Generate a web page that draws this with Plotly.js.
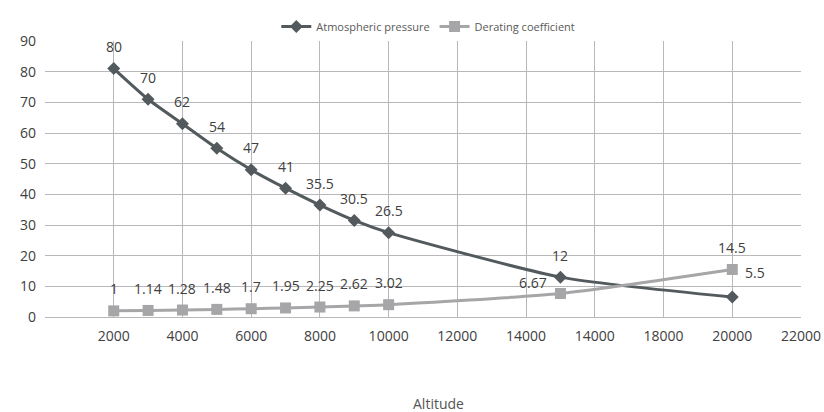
<!DOCTYPE html>
<html>
<head>
<meta charset="utf-8">
<script src="https://cdn.plot.ly/plotly-3.0.1.min.js"></script>
<style>html,body{margin:0;padding:0;background:#fff;}#chart{width:824px;height:412px;}</style>
</head>
<body>
<div id="chart"></div>
<script>
// Altitude (m)
const altitude = [2000, 3000, 4000, 5000, 6000, 7000, 8000, 9000, 10000, 15000, 20000];
// Plotted positions
const pressureValues = [81, 71, 63, 55, 48, 42, 36.5, 31.5, 27.5, 13, 6.5];
const deratingValues = [2, 2.14, 2.28, 2.48, 2.7, 2.95, 3.25, 3.62, 4.02, 7.67, 15.5];
// Data labels as printed on the chart
const pressureLabels = ["80", "70", "62", "54", "47", "41", "35.5", "30.5", "26.5", "12", "5.5"];
const deratingLabels = ["1", "1.14", "1.28", "1.48", "1.7", "1.95", "2.25", "2.62", "3.02", "6.67", "14.5"];
// X tick labels as printed (note duplicated 14000)
const xTickVals = [0, 2000, 4000, 6000, 8000, 10000, 12000, 14000, 16000, 18000, 20000, 22000];
const xTickText = ["", "2000", "4000", "6000", "8000", "10000", "12000", "14000", "14000", "18000", "20000", "22000"];

const FONT = "Open Sans, Lato, sans-serif";
const TXT = "#404040";

const traces = [
  {
    x: altitude, y: pressureValues, name: "Atmospheric pressure",
    type: "scatter", mode: "lines+markers",
    line: {color: "#535a5e", width: 3, shape: "spline", smoothing: 0.6},
    marker: {symbol: "diamond", size: 10, color: "#535a5e"}
  },
  {
    x: altitude, y: deratingValues, name: "Derating coefficient",
    type: "scatter", mode: "lines+markers",
    line: {color: "#a6a6a8", width: 3, shape: "spline", smoothing: 0.6},
    marker: {symbol: "square", size: 11, color: "#a6a6a8"}
  }
];

const annotations = [];
function addLabels(values, labels, special) {
  values.forEach((v, i) => {
    const s = special[i] || {};
    annotations.push({
      x: altitude[i], y: v, xref: "x", yref: "y", text: labels[i],
      showarrow: false, yshift: s.yshift !== undefined ? s.yshift : 22,
      xshift: s.xshift || 0,
      font: {family: FONT, size: 14, color: TXT}
    });
  });
}
addLabels(pressureValues, pressureLabels, {10: {xshift: 23, yshift: 25}});
addLabels(deratingValues, deratingLabels, {9: {xshift: -27, yshift: 11}});

annotations.push({
  text: "Altitude", xref: "paper", yref: "paper", x: 0.52, y: -0.0, yshift: -86,
  xanchor: "center", yanchor: "middle", showarrow: false,
  font: {family: FONT, size: 14, color: "#555"}
});

const layout = {
  width: 824, height: 412,
  margin: {l: 45, r: 23, t: 33, b: 95},
  paper_bgcolor: "#fff", plot_bgcolor: "#fff",
  font: {family: FONT, size: 14, color: TXT},
  showlegend: true,
  legend: {
    orientation: "h", x: 0.507, xanchor: "center", y: 1.0, yanchor: "bottom",
    yref: "paper", font: {family: FONT, size: 11, color: "#595959"},
    itemwidth: 30, bgcolor: "rgba(0,0,0,0)"
  },
  xaxis: {
    range: [0, 22000], tickvals: xTickVals, ticktext: xTickText,
    showgrid: true, gridcolor: "#b8b8ba", gridwidth: 1,
    zeroline: false, showline: true, linecolor: "#b8b8ba", linewidth: 1,
    mirror: false, ticks: "", ticklabelstandoff: 6,
    tickfont: {family: FONT, size: 14, color: TXT}
  },
  yaxis: {
    range: [0, 90], dtick: 10, tick0: 0,
    showgrid: true, gridcolor: "#b8b8ba", gridwidth: 1,
    zeroline: false, showline: false, ticks: "", ticklabelstandoff: 8,
    tickfont: {family: FONT, size: 14, color: TXT}
  },
  annotations: annotations
};

Plotly.newPlot("chart", traces, layout, {displayModeBar: false, staticPlot: true});
</script>
</body>
</html>
